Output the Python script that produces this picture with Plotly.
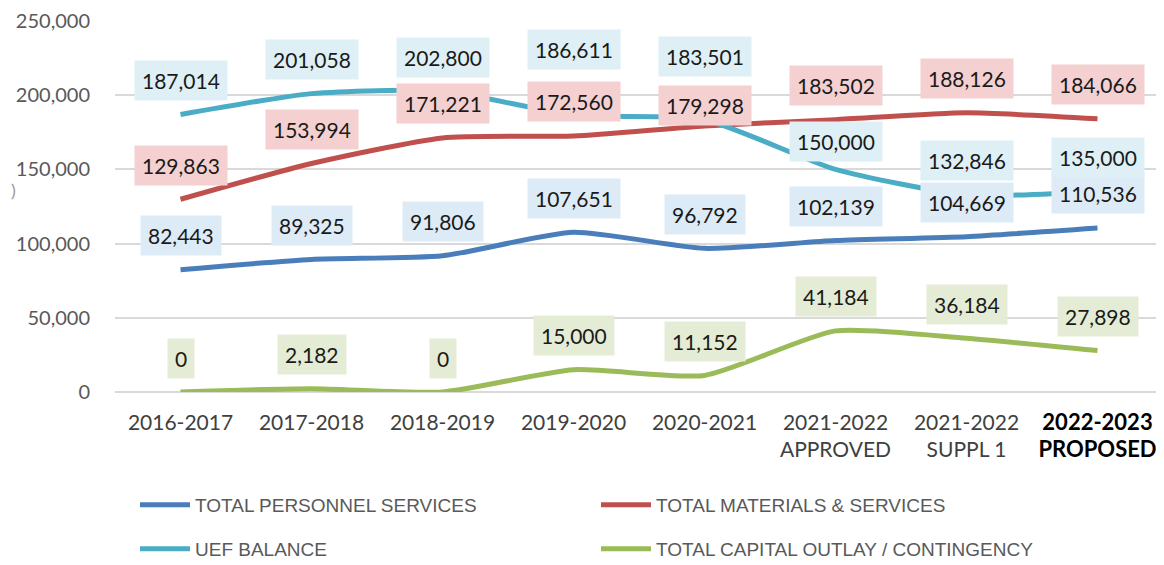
import plotly.graph_objects as go

categories = ["2016-2017", "2017-2018", "2018-2019", "2019-2020", "2020-2021",
              "2021-2022<br>APPROVED", "2021-2022<br>SUPPL 1", "2022-2023<br>PROPOSED"]
tick_text = categories[:-1] + [
    "<b><span style='color:#000000;font-size:22px'>2022-2023<br>PROPOSED</span></b>"]

personnel = [82443, 89325, 91806, 107651, 96792, 102139, 104669, 110536]
materials = [129863, 153994, 171221, 172560, 179298, 183502, 188126, 184066]
uef_balance = [187014, 201058, 202800, 186611, 183501, 150000, 132846, 135000]
capital = [0, 2182, 0, 15000, 11152, 41184, 36184, 27898]

series = [
    ("TOTAL PERSONNEL SERVICES", personnel, "#4A7EBB", "#DDEBF7", "legend"),
    ("TOTAL MATERIALS & SERVICES", materials, "#C0504D", "#F4D0D0", "legend"),
    ("UEF BALANCE", uef_balance, "#4BACC6", "#DEF0F5", "legend2"),
    ("TOTAL CAPITAL OUTLAY / CONTINGENCY", capital, "#9BBB59", "#E4ECD5", "legend2"),
]

# label vertical offsets (pixels above the point)
default_shift = 34
shift_overrides = {
    ("UEF BALANCE", 3): 66,
    ("UEF BALANCE", 4): 63,
    ("TOTAL MATERIALS & SERVICES", 4): 20,
    ("UEF BALANCE", 5): 28,
}

# page body adds an 8px margin; figure is sized to fit the 1164x565 window
W, H, PAGE = 1156, 557, 8
ML, MT, PW, PH = 107, 13, 1048, 371

fig = go.Figure()
annotations = []
for name, vals, color, bg, leg in series:
    fig.add_trace(go.Scatter(
        x=list(range(len(categories))), y=vals, name=name, mode="lines",
        line=dict(color=color, width=5, shape="spline", smoothing=0.6),
        legend=leg,
    ))
    for i, v in enumerate(vals):
        annotations.append(dict(
            x=i, y=v, xref="x", yref="y", text=f"{v:,}", showarrow=False,
            yshift=shift_overrides.get((name, i), default_shift),
            bgcolor=bg, borderpad=7,
            font=dict(family="Lato", size=21, color="#1a1a1a"),
        ))

annotations.append(dict(x=(1 - ML) / PW, y=1 - (190 - PAGE - MT) / PH,
                        xref="paper", yref="paper",
                        text=")", xanchor="left", yanchor="middle", showarrow=False,
                        font=dict(family="Lato", size=18, color="#9a9a9a")))

legend_common = dict(
    orientation="h", xanchor="left", yanchor="middle", xref="container", yref="container",
    font=dict(family="Liberation Sans", size=19, color="#595959"),
    entrywidth=396, entrywidthmode="pixels", bgcolor="rgba(0,0,0,0)", itemwidth=50,
)

fig.update_layout(
    width=W, height=H,
    margin=dict(l=ML, r=W - ML - PW, t=MT, b=H - MT - PH, autoexpand=False),
    paper_bgcolor="white", plot_bgcolor="white",
    showlegend=True,
    legend=dict(x=127 / W, y=1 - (505 - PAGE) / H, **legend_common),
    legend2=dict(x=127 / W, y=1 - (549 - PAGE) / H, **legend_common),
    annotations=annotations,
    xaxis=dict(
        range=[-0.5, 7.5], tickmode="array", tickvals=list(range(len(categories))),
        ticktext=tick_text, showgrid=False, zeroline=False, showline=False, ticks="",
        tickfont=dict(family="Lato", size=21, color="#404040"), automargin=False,
        ticklabelstandoff=16,
    ),
    yaxis=dict(
        range=[0, 250000], dtick=50000, tickformat=",", showgrid=True,
        gridcolor="#D9D9D9", gridwidth=1.5, zeroline=True, zerolinecolor="#D9D9D9",
        zerolinewidth=1.5, showline=False, ticks="", ticklabelstandoff=24,
        tickfont=dict(family="Lato", size=20, color="#595959"), automargin=False,
    ),
)

fig.write_html("out.html")
